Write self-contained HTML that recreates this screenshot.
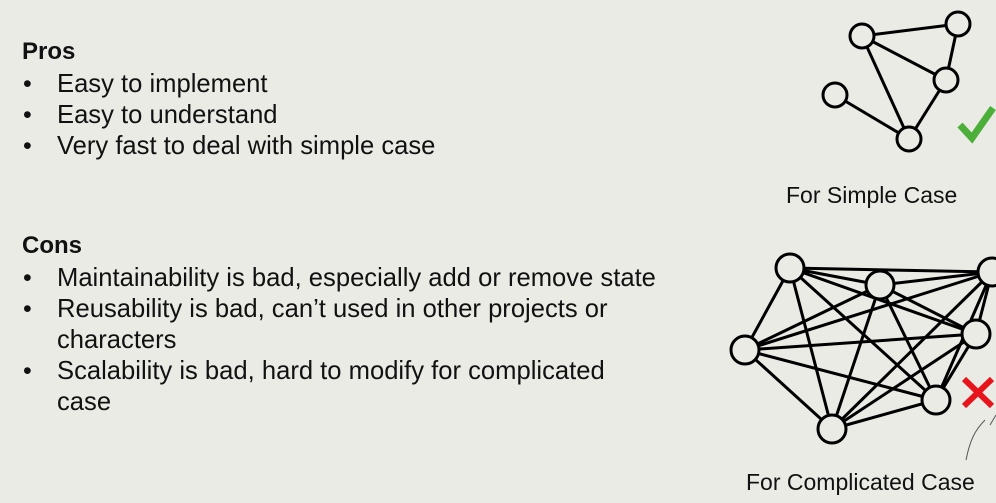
<!DOCTYPE html>
<html><head><style>
body{margin:0;width:996px;height:503px;overflow:hidden;background:#ebebe6;font-family:"Liberation Sans",sans-serif;color:#111;position:relative}
.t{position:absolute;font-size:25.6px;white-space:nowrap;line-height:28px}
.h{font-weight:bold;font-size:24px}
.b{position:absolute;left:23px;font-size:25px;line-height:28px}
</style></head><body>
<div class="t h" style="left:22px;top:38px">Pros</div>
<div class="b" style="top:70px">•</div><div class="t" style="left:57px;top:70px">Easy to implement</div>
<div class="b" style="top:101px">•</div><div class="t" style="left:57px;top:101px">Easy to understand</div>
<div class="b" style="top:132px">•</div><div class="t" style="left:57px;top:132px">Very fast to deal with simple case</div>
<div class="t h" style="left:22px;top:232px">Cons</div>
<div class="b" style="top:264px">•</div><div class="t" style="left:57px;top:264px">Maintainability is bad, especially add or remove state</div>
<div class="b" style="top:295px">•</div><div class="t" style="left:57px;top:295px">Reusability is bad, can’t used in other projects or</div>
<div class="t" style="left:57px;top:326px">characters</div>
<div class="b" style="top:357px">•</div><div class="t" style="left:57px;top:357px">Scalability is bad, hard to modify for complicated</div>
<div class="t" style="left:57px;top:388px">case</div>
<div class="t" style="left:786px;top:181px;font-size:23px">For Simple Case</div>
<div class="t" style="left:746px;top:468px;font-size:23px">For Complicated Case</div>
<svg width="996" height="503" style="position:absolute;left:0;top:0" stroke="#000" stroke-width="3" fill="none">
<g>
<line x1="862" y1="36" x2="958" y2="24"/><line x1="862" y1="36" x2="946" y2="80"/><line x1="862" y1="36" x2="909" y2="139"/>
<line x1="958" y1="24" x2="946" y2="80"/><line x1="946" y1="80" x2="909" y2="139"/><line x1="835" y1="95" x2="909" y2="139"/>
<g fill="#ebebe6"><circle cx="862" cy="36" r="12"/><circle cx="958" cy="24" r="12"/><circle cx="946" cy="80" r="12"/><circle cx="835" cy="95" r="12"/><circle cx="909" cy="139" r="12"/></g>
</g>
<polyline points="960,125 972,138 993,108" stroke="#4caf3a" stroke-width="7"/>
<g>
<line x1="790" y1="268" x2="880" y2="285"/><line x1="790" y1="268" x2="992" y2="272"/><line x1="790" y1="268" x2="976" y2="334"/><line x1="790" y1="268" x2="745" y2="350"/><line x1="790" y1="268" x2="832" y2="429"/><line x1="790" y1="268" x2="936" y2="400"/>
<line x1="880" y1="285" x2="992" y2="272"/><line x1="880" y1="285" x2="976" y2="334"/><line x1="880" y1="285" x2="745" y2="350"/><line x1="880" y1="285" x2="832" y2="429"/><line x1="880" y1="285" x2="936" y2="400"/>
<line x1="992" y1="272" x2="976" y2="334"/><line x1="992" y1="272" x2="745" y2="350"/><line x1="992" y1="272" x2="832" y2="429"/><line x1="992" y1="272" x2="936" y2="400"/>
<line x1="976" y1="334" x2="745" y2="350"/><line x1="976" y1="334" x2="832" y2="429"/><line x1="976" y1="334" x2="936" y2="400"/>
<line x1="745" y1="350" x2="832" y2="429"/><line x1="745" y1="350" x2="936" y2="400"/><line x1="832" y1="429" x2="936" y2="400"/>
<g fill="#ebebe6"><circle cx="790" cy="268" r="14"/><circle cx="880" cy="285" r="14"/><circle cx="992" cy="272" r="14"/><circle cx="976" cy="334" r="14"/><circle cx="745" cy="350" r="14"/><circle cx="832" cy="429" r="14"/><circle cx="936" cy="400" r="14"/></g>
</g>
<g stroke="#e8141c" stroke-width="6"><line x1="964" y1="379" x2="992" y2="406"/><line x1="992" y1="379" x2="964" y2="406"/></g>
<path d="M966,460 C970,440 975,430 985,420 M990,425 L996,415" stroke="#555" stroke-width="1"/>
</svg>
</body></html>
